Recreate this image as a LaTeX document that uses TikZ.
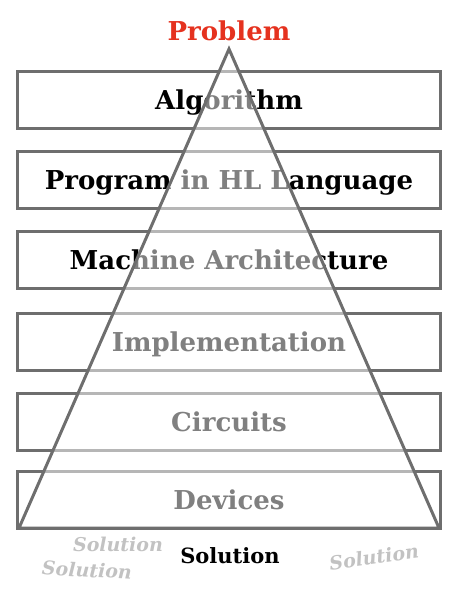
\documentclass[tikz,border=0pt]{standalone}
\usepackage{fontspec}
\setmainfont{DejaVu Serif}
\definecolor{framegray}{HTML}{6E6E6E}
\definecolor{probred}{HTML}{E5321F}
\definecolor{solgray}{HTML}{C2C2C2}
\tikzset{
  layerbox/.style={draw=framegray, line width=3pt, minimum width=423pt, minimum height=57pt, inner sep=0pt, text height=19pt, text depth=0pt, font=\fontsize{26}{30}\selectfont\bfseries, text=black},
  soltext/.style={font=\fontsize{19}{22}\selectfont\bfseries\itshape, text=solgray, inner sep=0pt, text height=14pt, text depth=0pt}
}
\begin{document}
\begin{tikzpicture}[x=1pt,y=-1pt]
\useasboundingbox (0,0) rectangle (460,600);
\node[layerbox] (b1) at (229,100) {Algorithm};
\node[layerbox] (b2) at (229,180) {Program in HL Language};
\node[layerbox] (b3) at (229,260) {Machine Architecture};
\node[layerbox] (b4) at (229,342) {Implementation};
\node[layerbox] (b5) at (229,422) {Circuits};
\node[layerbox] (b6) at (229,500) {Devices};
\coordinate (apex) at (229,49);
\coordinate (bl) at (19,528);
\coordinate (br) at (439,528);
\draw[draw=framegray, line width=3pt, fill=white, fill opacity=0.5, line join=miter] (apex) -- (br) -- (bl) -- cycle;
\node[font=\fontsize{26}{30}\selectfont\bfseries, text=probred, inner sep=0pt, text height=19pt, text depth=0pt] (prob) at (229,31) {Problem};
\node[font=\fontsize{21}{24}\selectfont\bfseries, text=black, inner sep=0pt, text height=15.5pt, text depth=0pt] (sol) at (230,556) {Solution};
\node[soltext] (s1) at (118,544) {Solution};
\node[soltext, rotate=-3] (s2) at (87,570) {Solution};
\node[soltext, rotate=8] (s3) at (374,557) {Solution};
\end{tikzpicture}
\end{document}
